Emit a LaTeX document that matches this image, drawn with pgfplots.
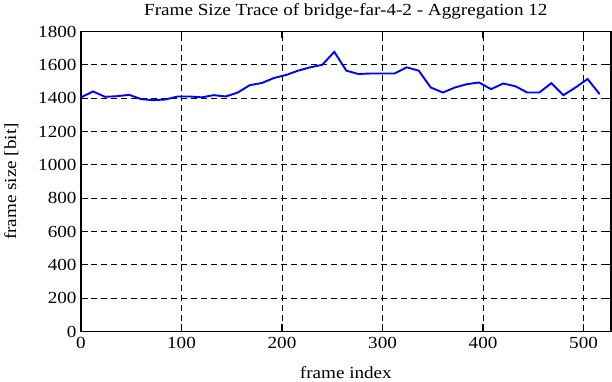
\documentclass[border=0pt]{standalone}
\usepackage{pgfplots}
\pgfplotsset{compat=1.18}
\usepackage{fontspec}
\setmainfont[FakeStretch=1.13]{Liberation Serif}
\begin{document}
\begin{tikzpicture}[x=1bp,y=1bp]
\path[use as bounding box] (0,0) rectangle (612bp,382bp);
\begin{axis}[
  at={(81bp,50.5bp)}, anchor=south west,
  scale only axis,
  width=529.7bp, height=300bp,
  xmin=0, xmax=527, ymin=0, ymax=1800,
  xtick={0,100,...,500}, ytick={0,200,...,1800},
  tick align=inside, tick pos=both,
  major tick length=7bp,
  grid=major,
  grid style={black, line width=0.9bp, dash pattern=on 6bp off 4bp},
  axis line style={black, line width=1.6bp},
  tick style={black, line width=1.2bp},
  /pgf/number format/assume math mode=true,
  /pgf/number format/1000 sep={},
  ticklabel style={font=\fontsize{17}{19}\selectfont},
  xticklabel style={yshift=-2bp},
  yticklabel style={xshift=-1bp},
  label style={font=\fontsize{17}{19}\selectfont},
  title style={font=\fontsize{17}{19}\selectfont, yshift=3bp},
  title={Frame Size Trace of bridge-far-4-2 - Aggregation 12},
  xlabel={frame index}, ylabel={frame size [bit]},
  xlabel style={yshift=-11bp},
  ylabel style={yshift=13bp},
  clip=false,
]
\addplot[blue, line width=1.9bp, mark=none] coordinates {
(0,1405) (12,1440) (24,1408) (36,1412) (48,1420) (60,1394) (72,1388) (84,1392)
(96,1410) (108,1410) (120,1405) (132,1418) (144,1410) (156,1434) (168,1478)
(180,1491) (192,1521) (204,1539) (216,1565) (228,1585) (240,1600) (252,1678)
(264,1565) (276,1545) (288,1548) (300,1548) (312,1548) (324,1585) (336,1565)
(348,1464) (360,1434) (372,1464) (384,1484) (396,1494) (408,1454) (420,1488)
(432,1472) (444,1434) (456,1434) (468,1490) (480,1418) (492,1464) (504,1515)
(516,1424)
};
\end{axis}
\end{tikzpicture}
\end{document}
